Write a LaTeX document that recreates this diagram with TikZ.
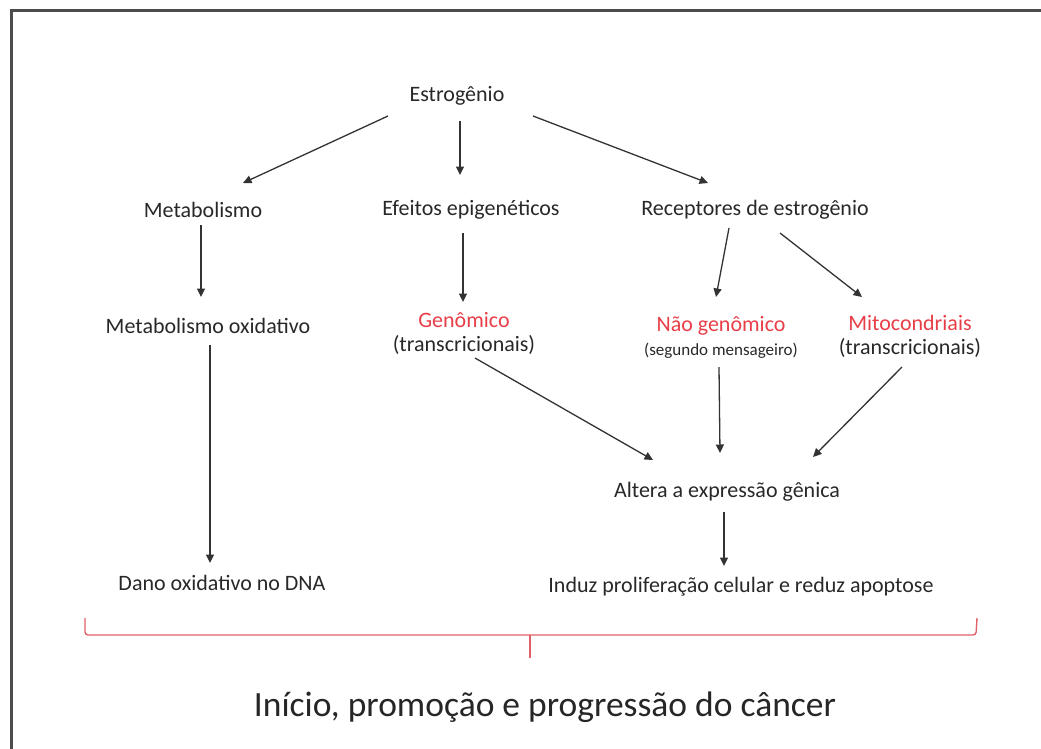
\documentclass[tikz,border=0pt]{standalone}
\usepackage{fontspec}
\setmainfont{Carlito}
\usetikzlibrary{arrows.meta,calc}

\definecolor{txtgray}{RGB}{40,40,40}
\definecolor{txtred}{RGB}{232,62,72}
\definecolor{bracered}{RGB}{226,96,104}

\begin{document}
\begin{tikzpicture}[x=1pt, y=-1pt,
    txt/.style={font=\fontsize{22}{24}\selectfont, text=txtgray, inner sep=0pt, align=center},
    title/.style={font=\fontsize{35.5}{40}\selectfont, text=black!85, inner sep=0pt},
    arr/.style={-{Triangle[length=8.5pt,width=8pt]}, line width=1.3pt, black!80}
]
\useasboundingbox (0,0) rectangle (1041,749);

% frame
\draw[line width=3pt, black!70] (11,760) -- (11,11) -- (1050,11);

% first level
\node[txt] (est) at (457,96) {Estrogênio};
\node[txt] (met) at (203,210) {Metabolismo};
\node[txt] (eff) at (471,210) {Efeitos epigenéticos};
\node[txt] (rec) at (755,210) {Receptores de estrogênio};

% second level
\node[txt] (mox) at (208,326) {Metabolismo oxidativo};
\node[txt] (gen) at (464,333) {\textcolor{txtred}{Genômico}\\(transcricionais)};
\node[txt] (nao) at (721,337) {\textcolor{txtred}{Não genômico}\\{\fontsize{17}{24}\selectfont(segundo mensageiro)}};
\node[txt] (mit) at (910,336) {\textcolor{txtred}{Mitocondriais}\\(transcricionais)};

% outcomes
\node[txt] (alt) at (727,492) {Altera a expressão gênica};
\node[txt] (dano) at (222,583) {Dano oxidativo no DNA};
\node[txt] (ind) at (741,587) {Induz proliferação celular e reduz apoptose};

% arrows
\draw[arr] ($(est)+(-69,20)$) -- ($(met)+(40,-27)$);
\draw[arr] ($(est)+(3,25)$) -- ($(eff)+(-11,-35)$);
\draw[arr] ($(est)+(76,20)$) -- ($(rec)+(-47,-27)$);
\draw[arr] ($(met)+(-2,15)$) -- ($(mox)+(-7,-29)$);
\draw[arr] ($(eff)+(-8,23)$) -- ($(gen)+(-1,-31)$);
\draw[arr] ($(rec)+(-26,18)$) -- ($(nao)+(-5,-40)$);
\draw[arr] ($(rec)+(25,23)$) -- ($(mit)+(-48,-39)$);
\draw[arr] ($(mox)+(2,19)$) -- ($(dano)+(-12,-20)$);
\draw[arr] ($(gen)+(11,25)$) -- ($(alt)+(-74,-32)$);
\draw[arr] ($(nao)+(-2,30)$) -- ($(alt)+(-7,-39)$);
\draw[arr] ($(mit)+(-8,31)$) -- ($(alt)+(86,-35)$);
\draw[arr] ($(alt)+(-3,20)$) -- ($(ind)+(-17,-21)$);

% brace
\draw[bracered, line width=1.4pt, rounded corners=3pt] (85,618) -- (85,635) -- (976,635) -- (977,618);
\draw[bracered, line width=1.4pt] (530,635) -- (530,658);

% title
\node[title] (res) at (545,707) {Início, promoção e progressão do câncer};

\end{tikzpicture}
\end{document}
